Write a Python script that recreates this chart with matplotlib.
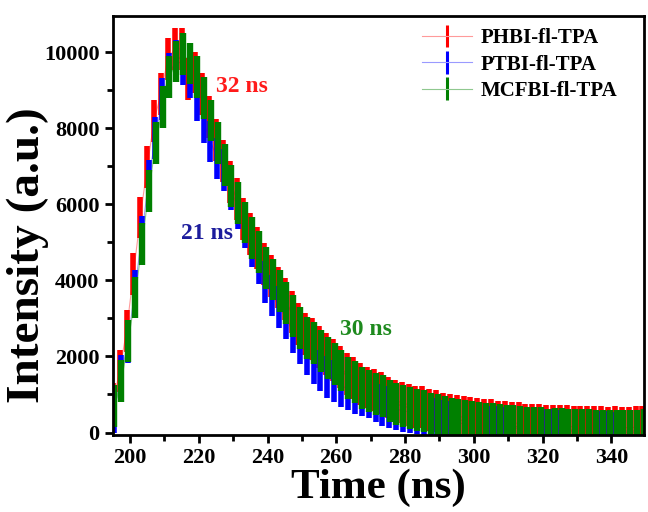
import numpy as np
import matplotlib
matplotlib.use('Agg')
import matplotlib.pyplot as plt
from matplotlib.ticker import MultipleLocator
from matplotlib.legend_handler import HandlerErrorbar
from matplotlib.container import ErrorbarContainer
from matplotlib.collections import LineCollection

plt.rcParams['font.family'] = ['Liberation Serif', 'DejaVu Serif']
plt.rcParams['font.weight'] = 'bold'

# TRPL decay, one channel every 2 ns
time = np.arange(195, 350, 2)

phbi = [750, 1620, 2670, 4160, 5650, 6970, 8190, 8900, 9820, 10080,
        10080, 9300, 9460, 8900, 8300, 7680, 7140, 6580, 6140, 5620,
        5220, 4840, 4430, 4120, 3810, 3510, 3160, 2850, 2590, 2450,
        2240, 2060, 1900, 1730, 1540, 1430, 1270, 1185, 1115, 1050,
        920, 835, 790, 730, 680, 660, 590, 555, 500, 460,
        430, 400, 380, 345, 325, 325, 290, 275, 255, 240,
        210, 205, 200, 170, 175, 175, 165, 150, 150, 150,
        135, 135, 130, 135, 130, 130, 135, 150]

ptbi = [550, 1500, 2370, 3730, 5130, 6620, 7750, 8760, 9420, 9770,
        9680, 9330, 8750, 8150, 7650, 7200, 6900, 6400, 5900, 5400,
        4900, 4450, 3950, 3600, 3300, 3000, 2650, 2350, 2050, 1830,
        1630, 1450, 1350, 1230, 1150, 1050, 990, 940, 840, 730,
        670, 620, 570, 540, 510, 480, 450, 350, 310, 280,
        250, 230, 210, 190, 170, 150, 140, 130, 120, 110,
        100, 90, 80, 70, 60, 50, 40, 30, 25, 20,
        15, 10, 5, 0, 0, -5, -5, -10]

mcfbi = [700, 1350, 2400, 3550, 4950, 6350, 7600, 8550, 9350, 9750,
         9950, 9700, 9350, 8800, 8200, 7600, 7040, 6490, 6040, 5520,
         5120, 4740, 4330, 4020, 3710, 3410, 3060, 2750, 2490, 2350,
         2140, 1960, 1800, 1630, 1440, 1330, 1170, 1090, 1020, 950,
         830, 740, 700, 640, 590, 570, 500, 460, 410, 370,
         340, 310, 290, 255, 235, 235, 200, 185, 165, 150,
         120, 115, 110, 80, 85, 85, 75, 60, 60, 60,
         45, 45, 40, 45, 40, 40, 45, 60]

err = 550  # counting error on every channel

names = ['PHBI-fl-TPA', 'PTBI-fl-TPA', 'MCFBI-fl-TPA']
shift = [0.0, 0.4, 0.5]  # small channel offset between the runs
dark = ['#ff0000', '#0000ff', '#008000']
light = ['#ff9a9a', '#9a9aff', '#8fc88f']
bar_w = [4.0, 4.0, 4.6]

lifetimes = ['32 ns', '21 ns', '30 ns']
life_pos = [(232.6, 9085), (222.5, 5220), (268.7, 2700)]
life_col = ['#ff1a1a', '#1c1c9c', '#1e8a1e']


def thin_bars(legend_handle, orig_handle):
    # legend keys: same style but a slimmer error bar
    legend_handle.update_from(orig_handle)
    if isinstance(legend_handle, LineCollection):
        legend_handle.set_linewidth(2.2)


fig = plt.figure(figsize=(6.48, 5.12), dpi=100)
ax = fig.add_axes([0.174, 0.150, 0.820, 0.819])

for y, name, dx, dc, lc, w in zip([phbi, ptbi, mcfbi], names, shift, dark, light, bar_w):
    eb = ax.errorbar(time + dx, y, yerr=err, fmt='-', color=lc, lw=0.8,
                     ecolor=dc, elinewidth=w, capsize=0, label=name)
    eb.lines[0].set_zorder(1)  # keep the joining line under the bars

for txt, (x, y), c in zip(lifetimes, life_pos, life_col):
    ax.text(x, y, txt, color=c, fontsize=17, fontweight='bold',
            ha='center', va='center', zorder=5)

ax.set_xlim(195, 349.5)
ax.set_ylim(-70, 10950)
ax.xaxis.set_major_locator(MultipleLocator(20))
ax.xaxis.set_minor_locator(MultipleLocator(10))
ax.yaxis.set_major_locator(MultipleLocator(2000))
ax.yaxis.set_minor_locator(MultipleLocator(1000))
ax.tick_params(which='major', length=6, width=2, labelsize=16)
ax.tick_params(which='minor', length=4, width=2)
for s in ax.spines.values():
    s.set_linewidth(2)
    s.set_zorder(6)

ax.set_xlabel('Time (ns)', fontsize=31, fontweight='bold', labelpad=0)
ax.set_ylabel('Intensity (a.u.)', fontsize=34, fontweight='bold')
ax.yaxis.set_label_coords(-0.12, 0.43)

ax.legend(loc='upper right', bbox_to_anchor=(0.985, 1.015), frameon=False,
          fontsize=15, handlelength=2.4, labelspacing=0.3, handletextpad=0.4,
          handler_map={ErrorbarContainer: HandlerErrorbar(yerr_size=0.55,
                                                          update_func=thin_bars)})

fig.savefig('out.png', dpi=100)
